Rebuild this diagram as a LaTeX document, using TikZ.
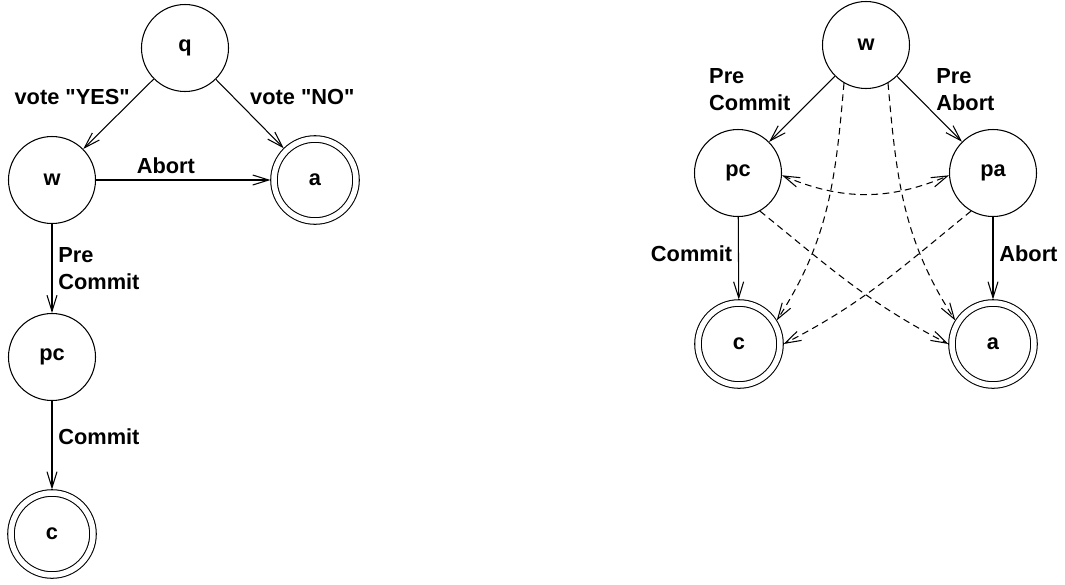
\documentclass[tikz,border=0pt]{standalone}
\usepackage{fontspec}
\setmainfont{Liberation Sans}
\usetikzlibrary{arrows.meta}
\tikzstyle{state}=[circle,draw,minimum size=1.74cm,inner sep=0pt]
\tikzstyle{final}=[circle,draw,double,double distance=0.11cm,minimum size=1.64cm,inner sep=0pt,outer sep=0.07cm]
\tikzstyle{hop}=[dash pattern=on 3.8pt off 2.6pt]

\begin{document}
\begin{tikzpicture}[x=2mm,y=-2mm,line width=0.6pt,>={Straight Barb[length=3.2mm,width=2mm]},
  font=\fontsize{12.4}{15.3}\selectfont\bfseries]
\useasboundingbox (0,0) rectangle (106.5,58.4);
% two phase commit
\node[state] at (18.5, 4.8) (q) {q};
\node[state] at (5.2, 18) (w) {w};
\node[final] at (31.5, 18) (a) {a};
\node[state] at (5.2, 35.7) (pc) {pc};
\node[final] at (5.2, 53.4) (c) {c};
\draw[->] (q) edge node[pos=0.25, anchor=east] {vote \textquotedbl YES\textquotedbl} (w);
\draw[->] (q) edge node[pos=0.25, anchor=west, xshift=2.2mm] {vote \textquotedbl NO\textquotedbl} (a);
\draw[->] (w) edge node[pos=0.4, above] {Abort} (a);
\draw[->] (w) edge node[midway, right, align=left] {Pre\\Commit} (pc);
\draw[->] (pc) edge node[pos=0.4, right] {Commit} (c);
% three phase commit
\node[state] at (86.6, 4.5) (w2) {w};
\node[state] at (73.8, 17.3) (pc2) {pc};
\node[state] at (99.3, 17.3) (pa2) {pa};
\node[final] at (73.9, 34.4) (c2) {c};
\node[final] at (99.3, 34.4) (a2) {a};
\draw[->] (w2) edge node[pos=0.2, anchor=east, xshift=-5mm, align=left] {Pre\\Commit} (pc2);
\draw[->] (w2) edge node[pos=0.2, anchor=west, xshift=4mm, align=left] {Pre\\Abort} (pa2);
\draw[->] (pc2) edge node[pos=0.45, left] {Commit} (c2);
\draw[->] (pa2) edge node[pos=0.45, right] {Abort} (a2);
\draw[<->, hop] (pc2.-3) to[out=-23, in=-157] (pa2.183);
\draw[->, hop] (w2.240) to[out=-95, in=57] (c2.32);
\draw[->, hop] (w2.300) to[out=-85, in=123] (a2.148);
\draw[->, hop] (pc2.-60) to[out=-39, in=153] (a2.180);
\draw[->, hop] (pa2.240) to[out=-141, in=27] (c2.0);
\end{tikzpicture}
\end{document}
